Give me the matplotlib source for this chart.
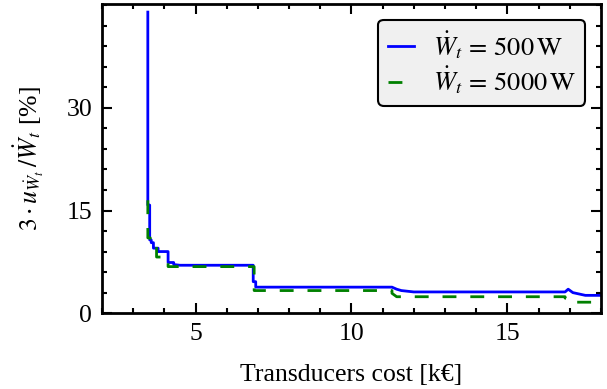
import matplotlib
matplotlib.use("Agg")
import matplotlib.pyplot as plt
import matplotlib.ticker as mticker

plt.rcParams["font.family"] = ["Liberation Serif", "DejaVu Serif"]
plt.rcParams["mathtext.fontset"] = "stix"
plt.rcParams["font.size"] = 18.5

# blue curve, W_t = 500 W
cost_500 = [3.47, 3.47, 3.53, 3.53, 3.58, 3.58, 3.65, 3.65, 3.80, 3.80, 4.12, 4.12,
            4.3, 4.3, 4.5, 6.85, 6.85, 6.93, 6.93, 11.3, 11.45, 11.6, 12.0, 16.85,
            16.95, 17.1, 17.5, 18.0]
unc_500 = [44.0, 15.8, 15.8, 10.7, 10.7, 10.3, 10.3, 9.5, 9.5, 9.0, 9.0, 7.4,
           7.4, 7.1, 7.0, 7.0, 4.6, 4.6, 3.8, 3.8, 3.5, 3.3, 3.1, 3.1,
           3.5, 3.0, 2.6, 2.6]

# green curve, W_t = 5000 W
cost_5000 = [3.47, 3.47, 3.55, 3.55, 3.75, 3.75, 4.12, 4.12, 6.88, 6.88, 11.3, 11.3,
             11.45, 16.85, 16.85, 17.1, 17.1, 18.0]
unc_5000 = [16.5, 11.0, 11.0, 9.7, 9.7, 8.2, 8.2, 6.8, 6.8, 3.3, 3.3, 2.9,
            2.4, 2.4, 2.2, 2.0, 1.6, 1.6]

y_ticks = [0, 15, 30]

fig = plt.figure(figsize=(6.07, 3.89), dpi=100)
ax = fig.add_axes([0.168, 0.195, 0.822, 0.795])

ax.plot(cost_500, unc_500, color="blue", linewidth=2,
        label=r"$\dot{W}_t \,=\, 500\,\mathrm{W}$")
ax.plot(cost_5000, unc_5000, color="green", linewidth=2, dashes=(5, 5),
        label=r"$\dot{W}_t \,=\, 5000\,\mathrm{W}$")

ax.set_xlim(2, 18)
ax.set_ylim(0, 45.2)
ax.xaxis.set_major_locator(mticker.MultipleLocator(5))
ax.xaxis.set_minor_locator(mticker.MultipleLocator(1))
ax.yaxis.set_major_locator(mticker.FixedLocator(y_ticks))
ax.yaxis.set_minor_locator(mticker.MultipleLocator(3))
ax.tick_params(which="both", direction="in", top=True, right=True, width=1.5)
ax.tick_params(which="major", length=7)
ax.tick_params(which="minor", length=3.5)
ax.tick_params(axis="y", pad=7)
ax.tick_params(axis="x", pad=7)
for spine in ax.spines.values():
    spine.set_linewidth(2)

ax.set_xlabel("Transducers cost [k€]", labelpad=14)
ax.set_ylabel(r"$3 \cdot u_{\dot{W}_t}\, / \dot{W}_t$ [%]", labelpad=15)

leg = ax.legend(loc="upper right", fancybox=True, handlelength=1.0, fontsize=19,
                borderpad=0.35, labelspacing=0.15, handletextpad=0.7,
                borderaxespad=0.6)
leg.get_frame().set_facecolor("#f0f0f0")
leg.get_frame().set_edgecolor("black")
leg.get_frame().set_linewidth(1.5)
leg.get_frame().set_alpha(1)

fig.savefig("out.png", dpi=100)
